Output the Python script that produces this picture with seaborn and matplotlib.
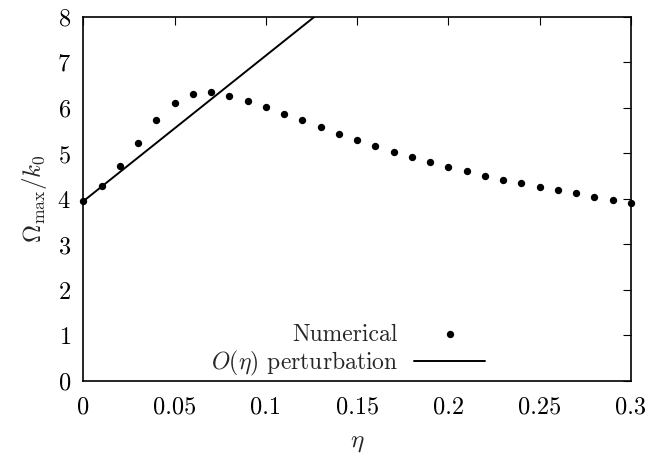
import matplotlib
matplotlib.use("Agg")
import matplotlib.pyplot as plt
import seaborn as sns
import pandas as pd

eta = [0.00, 0.01, 0.02, 0.03, 0.04, 0.05, 0.06, 0.07, 0.08, 0.09, 0.10,
       0.11, 0.12, 0.13, 0.14, 0.15, 0.16, 0.17, 0.18, 0.19, 0.20, 0.21,
       0.22, 0.23, 0.24, 0.25, 0.26, 0.27, 0.28, 0.29, 0.30]
omega_num = [3.95, 4.29, 4.73, 5.23, 5.74, 6.11, 6.31, 6.35, 6.27, 6.16, 6.02,
             5.87, 5.73, 5.58, 5.43, 5.30, 5.17, 5.04, 4.92, 4.81, 4.71, 4.62,
             4.51, 4.42, 4.34, 4.26, 4.19, 4.12, 4.04, 3.98, 3.92]
eta_line = [0.0, 0.30]
omega_line = [3.95, 13.55]

x_ticks = [0, 0.05, 0.1, 0.15, 0.2, 0.25, 0.3]
x_ticklabels = ["0", "0.05", "0.1", "0.15", "0.2", "0.25", "0.3"]
y_ticks = [0, 1, 2, 3, 4, 5, 6, 7, 8]

sns.set_style("white")
plt.rcParams["font.family"] = ["cmr10", "DejaVu Serif"]
plt.rcParams["mathtext.fontset"] = "cm"
plt.rcParams["axes.formatter.use_mathtext"] = True

fig = plt.figure(figsize=(6.62, 4.57), dpi=100)
ax = fig.add_axes([0.1258, 0.1663, 0.953 - 0.1258, 0.963 - 0.1663])

df_num = pd.DataFrame({"eta": eta, "omega": omega_num})
df_line = pd.DataFrame({"eta": eta_line, "omega": omega_line})

sns.scatterplot(data=df_num, x="eta", y="omega", ax=ax, color="black",
                s=28, linewidth=0, label="Numerical", zorder=3, clip_on=False)
sns.lineplot(data=df_line, x="eta", y="omega", ax=ax, color="black",
             linewidth=1.4, label=r"$O(\eta)$ perturbation")

ax.set_xlim(0, 0.3)
ax.set_ylim(0, 8)
ax.set_xticks(x_ticks)
ax.set_xticklabels(x_ticklabels)
ax.set_yticks(y_ticks)
ax.tick_params(direction="in", top=True, right=True, length=6, width=0.8,
               labelsize=17.5, colors="black")
ax.tick_params(axis="x", pad=11)
ax.tick_params(axis="y", pad=9)
for sp in ax.spines.values():
    sp.set_linewidth(1.2)
    sp.set_color("black")

ax.set_xlabel(r"$\eta$", fontsize=18, labelpad=10)
ax.set_ylabel(r"$\Omega_{\rm max}/k_0$", fontsize=18, labelpad=6)

leg = ax.legend(loc="lower right", bbox_to_anchor=(0.764, -0.038), frameon=False,
                markerfirst=False, fontsize=17, handlelength=3.0,
                handletextpad=0.7, labelspacing=0.15, borderaxespad=0.3)

fig.savefig("out.png", dpi=100)
